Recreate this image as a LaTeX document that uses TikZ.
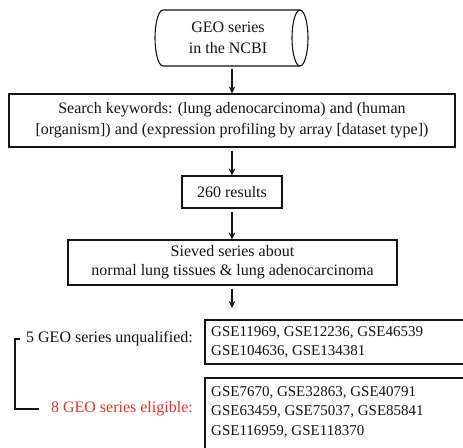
\documentclass[tikz,border=0pt]{standalone}
\usepackage{fontspec}
\setmainfont{Liberation Serif}
\usetikzlibrary{arrows.meta}
\definecolor{ink}{RGB}{20,20,20}
\definecolor{redtxt}{RGB}{230,50,45}
\begin{document}
\begin{tikzpicture}[x=1pt,y=-1pt,
  every node/.style={font=\fontsize{16}{21}\selectfont, text=ink},
  box/.style={draw=ink, line width=1.1pt, align=center, inner sep=0pt},
  flow/.style={draw=ink, line width=1.1pt, -{Stealth[length=7pt,width=6.5pt]}, shorten <=3pt},
  brk/.style={draw=ink, line width=1.1pt},
  lbl/.style={inner sep=0pt, anchor=east},
  lst/.style={inner sep=0pt, anchor=west, align=left, font=\fontsize{15}{19.5}\selectfont}]
\useasboundingbox (0,0) rectangle (463,447);
\clip (0,0) rectangle (463,447);
% cylinder
\draw[ink, line width=1.1pt] (163,10) -- (300,10)
  (163,10) arc[start angle=90, end angle=270, x radius=8pt, y radius=28pt] -- (300,66);
\draw[ink, line width=1.1pt] (300,38) ellipse[x radius=8pt, y radius=28pt];
\node[align=center, inner sep=0pt] (geo) at (228,38) {GEO series\\in the NCBI};
\coordinate (cylb) at (232,66);
% boxes
\node[box, minimum width=446pt, minimum height=53pt] (search) at (232,120.5)
  {Search keywords: (lung adenocarcinoma) and (human\\[0pt][organism]) and (expression profiling by array [dataset type])};
\node[box, minimum width=100pt, minimum height=32pt] (res) at (232,192) {260 results};
\node[box, minimum width=329pt, minimum height=45pt, font=\fontsize{16}{19}\selectfont] (sieve) at (232.5,262.5)
  {Sieved series about\\normal lung tissues \& lung adenocarcinoma};
\coordinate (aend) at (232,308);
% arrows
\draw[flow] (cylb) -- (search.north -| cylb);
\draw[flow] (search.south -| cylb) -- (res.north -| cylb);
\draw[flow] (res.south -| cylb) -- (sieve.north -| cylb);
\draw[flow] (sieve.south -| cylb) -- (aend);
% result boxes
\draw[box] (480,320) -- (205,320) -- (205,364) -- (480,364);
\draw[box] (480,378) -- (205,378) -- (205,460);
\node[lst] (unqlist) at (211,342) {GSE11969, GSE12236, GSE46539\\GSE104636, GSE134381};
\node[lst] (elilist) at (211,412) {GSE7670, GSE32863, GSE40791\\GSE63459, GSE75037, GSE85841\\GSE116959, GSE118370};
% labels and bracket
\node[lbl] (unq) at (193,339) {5 GEO series unqualified:};
\node[lbl, text=redtxt] (eli) at (193,409) {8 GEO series eligible:};
\coordinate (b1) at (15,339);
\coordinate (b2) at (15,409);
\draw[brk] ([xshift=-6pt]unq.west) -- (b1) -- (b2) -- ([xshift=-12pt]eli.west);
\end{tikzpicture}
\end{document}
